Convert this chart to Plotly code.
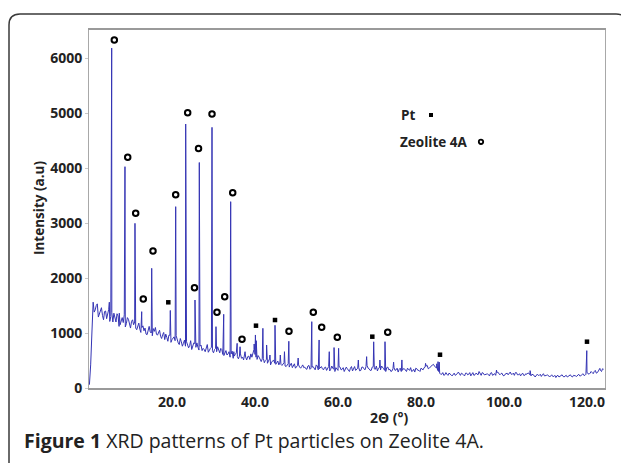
import numpy as np
import plotly.graph_objects as go

# ---------------- data ----------------
ramp_theta = [0.1, 0.4, 0.7]
ramp_int = [60, 420, 1000]

# background sampled every 0.5 deg from 1.0 to 124.0
bg_theta = np.arange(1.0, 124.01, 0.5)
bg_int = [
    1560, 1420, 1530, 1350, 1460, 1240, 1400, 1330, 1210, 1370,   # 1.0-5.5
    1360, 1200, 1310, 1150, 1280, 1330, 1170, 1250, 1090, 1240,   # 6.0-10.5
    1200, 1060, 1180, 1010, 1130, 1090, 970, 1120, 1000, 1080,    # 11.0-15.5
    1100, 960, 1050, 900, 1010, 980, 850, 960, 880, 930,          # 16.0-20.5
    950, 820, 900, 760, 870, 840, 730, 860, 760, 810,             # 21.0-25.5
    820, 690, 780, 720, 660, 790, 700, 740, 640, 720,             # 26.0-30.5
    750, 640, 700, 590, 680, 620, 560, 670, 580, 640,             # 31.0-35.5
    530, 620, 560, 600, 510, 580, 620, 660, 610, 520,             # 36.0-40.5
    560, 480, 540, 500, 450, 530, 470, 510, 430, 490,             # 41.0-45.5
    470, 410, 460, 390, 440, 420, 370, 440, 390, 420,             # 46.0-50.5
    360, 420, 380, 340, 410, 360, 390, 330, 400, 350,             # 51.0-55.5
    390, 330, 380, 350, 310, 400, 340, 370, 320, 380,             # 56.0-60.5
    340, 300, 380, 330, 360, 310, 390, 340, 370, 320,             # 61.0-65.5
    380, 330, 410, 350, 320, 390, 340, 310, 370, 400,             # 66.0-70.5
    350, 300, 380, 340, 310, 370, 330, 290, 360, 320,             # 71.0-75.5
    350, 300, 340, 370, 310, 290, 350, 320, 360, 330,             # 76.0-80.5
    380, 410, 360, 400, 430, 380, 320, 270, 250, 230,             # 81.0-85.5
    280, 230, 260, 220, 270, 240, 290, 230, 260, 220,             # 86.0-90.5
    270, 250, 220, 280, 240, 260, 300, 230, 270, 240,             # 91.0-95.5
    260, 220, 280, 250, 230, 290, 240, 270, 220, 260,             # 96.0-100.5
    240, 290, 250, 230, 280, 240, 220, 270, 230, 250,             # 101.0-105.5
    270, 220, 240, 200, 250, 230, 210, 260, 220, 240,             # 106.0-110.5
    200, 240, 210, 190, 230, 210, 240, 200, 230, 210,             # 111.0-115.5
    240, 200, 230, 210, 250, 220, 260, 230, 280, 250,             # 116.0-120.5
    300, 260, 320, 280, 350, 300, 340,                            # 121.0-124.0
]

# background at the half-steps, 1.25 to 123.75
bg2_theta = np.arange(1.25, 123.76, 0.5)
bg2_int = [
    1380, 1500, 1290, 1440, 1320, 1390, 1260, 1430, 1300, 1200,   # 1.25-5.75
    1270, 1350, 1120, 1240, 1190, 1110, 1280, 1130, 1210, 1150,   # 6.25-10.75
    1090, 1150, 1070, 1100, 1040, 980, 1060, 1020, 950, 1030,     # 11.25-15.75
    980, 1020, 940, 970, 880, 920, 960, 830, 910, 860,            # 16.25-20.75
    870, 790, 840, 810, 760, 800, 770, 700, 820, 740,             # 21.25-25.75
    740, 760, 680, 700, 740, 650, 720, 680, 700, 660,             # 26.25-30.75
    680, 720, 610, 650, 600, 660, 620, 540, 610, 570,             # 31.25-35.75
    580, 540, 510, 560, 570, 520, 560, 700, 560, 590,             # 36.25-40.75
    500, 530, 460, 520, 490, 420, 500, 450, 470, 420,             # 41.25-45.75
    430, 450, 400, 420, 380, 450, 400, 360, 410, 380,             # 46.25-50.75
    390, 370, 350, 400, 340, 380, 360, 420, 330, 380,             # 51.25-55.75
    350, 370, 320, 390, 340, 360, 300, 350, 390, 330,             # 56.25-60.75
    370, 330, 350, 300, 390, 350, 320, 360, 310, 380,             # 61.25-65.75
    350, 390, 360, 320, 380, 350, 400, 360, 330, 360,             # 66.25-70.75
    320, 370, 330, 300, 350, 320, 360, 340, 300, 350,             # 71.25-75.75
    310, 360, 320, 300, 340, 360, 320, 300, 340, 370,             # 76.25-80.75
    400, 350, 390, 420, 400, 360, 300, 250, 280, 240,             # 81.25-85.75
    250, 270, 240, 250, 230, 260, 250, 270, 240, 270,             # 86.25-90.75
    240, 280, 250, 230, 270, 240, 250, 280, 240, 250,             # 91.25-95.75
    240, 270, 230, 260, 280, 250, 260, 230, 250, 270,             # 96.25-100.75
    260, 250, 270, 280, 240, 260, 250, 230, 260, 270,             # 101.25-105.75
    240, 250, 230, 220, 230, 250, 240, 220, 230, 210,             # 106.25-110.75
    220, 210, 230, 220, 200, 230, 210, 220, 200, 230,             # 111.25-115.75
    210, 230, 220, 240, 220, 240, 230, 250, 260, 270,             # 116.25-120.75
    280, 300, 270, 310, 320, 350,                                 # 121.25-123.75
]

# diffraction peak tops
peak_theta = [4.9, 5.47, 7.3, 8.67, 11.08, 12.70, 15.11, 19.59, 20.89, 23.30,
              25.54, 26.58, 29.64, 30.60, 32.46, 34.14, 34.9, 35.7, 36.4, 37.6,
              39.8, 40.1, 40.3, 41.9, 42.8, 43.6, 44.82, 46.1, 47.1, 48.15,
              50.4, 53.68, 55.45, 57.9, 59.05, 60.15, 64.9, 66.9, 68.6, 70.1,
              71.33, 73.4, 75.4, 81.1, 83.8, 84.1, 84.4, 98.2, 106.3, 119.95,
              123.1]
peak_int = [1560, 6180, 1360, 4024, 2994, 1388, 2176, 1410, 3297, 4800,
            1600, 4100, 4739, 1115, 1340, 3388, 660, 812, 750, 660,
            800, 964, 860, 1085, 782, 600, 1140, 600, 660, 850,
            545, 1206, 873, 660, 735, 722, 509, 570, 840, 509,
            842, 470, 510, 448, 440, 479, 470, 327, 315, 679,
            357]

# reflection markers
zeo_theta = [6.10, 9.33, 11.25, 13.08, 15.42, 20.89, 23.78, 25.42, 26.39, 29.64,
             30.84, 32.70, 34.63, 36.87, 48.19, 54.05, 56.07, 59.83, 71.98]
zeo_int = [6327, 4195, 3176, 1618, 2491, 3515, 5005, 1824, 4355, 4982,
           1376, 1660, 3551, 885, 1031, 1376, 1104, 922, 1013]
pt_theta = [19.11, 40.24, 44.82, 68.27, 84.58, 120.0]
pt_int = [1558, 1133, 1236, 933, 605, 842]

x_ticks = [20, 40, 60, 80, 100, 120]
x_ticktext = ["20.0", "40.0", "60.0", "80.0", "100.0", "120.0"]
y_ticks = [0, 1000, 2000, 3000, 4000, 5000, 6000]
y_ticktext = ["0", "1000", "2000", "3000", "4000", "5000", "6000"]

# ---------------- build pattern (merge typed points, sorted) ----------------
pts = (list(zip(ramp_theta, ramp_int))
       + list(zip(bg_theta.tolist(), bg_int))
       + list(zip(bg2_theta.tolist(), bg2_int))
       + list(zip(peak_theta, peak_int)))
pts.sort(key=lambda p: p[0])
xs = [p[0] for p in pts]
ys = [p[1] for p in pts]

# page body has an 8px margin -> figure is 8px smaller and shifted
OFF = 8
W, H = 629 - OFF, 463 - OFF
L, R, T, B = 89 - OFF, 24, 30 - OFF, 75
PW, PH = W - L - R, H - T - B


def px(xp):  # reference-image x pixel -> paper
    return (xp - 89) / PW


def py(yp):  # reference-image y pixel -> paper
    return (388 - yp) / PH


fig = go.Figure()
fig.add_trace(go.Scatter(x=xs, y=ys, mode="lines",
                         line=dict(color="#3434b4", width=1),
                         showlegend=False, hoverinfo="skip"))
fig.add_trace(go.Scatter(x=zeo_theta, y=zeo_int, mode="markers", name="Zeolite 4A",
                         marker=dict(symbol="circle-open", size=5.5, color="black",
                                     line=dict(width=2, color="black")),
                         showlegend=False))
fig.add_trace(go.Scatter(x=pt_theta, y=pt_int, mode="markers", name="Pt",
                         marker=dict(symbol="square", size=4.5, color="black"),
                         showlegend=False))

tickfont = dict(family="Open Sans", size=14, color="#222222", weight="bold")

fig.update_xaxes(range=[0, 124.34], tickvals=x_ticks, ticktext=x_ticktext,
                 showgrid=False, zeroline=False, showline=True, linecolor="#9a9a9a",
                 linewidth=1.5, mirror=True, ticks="", tickfont=tickfont,
                 ticklabelstandoff=0)
fig.update_yaxes(range=[0, 6509], tickvals=y_ticks, ticktext=y_ticktext,
                 showgrid=False, zeroline=False, showline=True, linecolor="#a8a8a8",
                 linewidth=1, mirror=True, ticks="outside", ticklen=3,
                 tickcolor="#c8c8c8", tickfont=tickfont)

# rounded figure frame
x0, x1 = px(9), px(627)
yt, yb = py(14), py(475)
rx, ry = 11 / PW, 11 / PH
frame = (f"M {x0},{yb} L {x0},{yt - ry} Q {x0},{yt} {x0 + rx},{yt} "
         f"L {x1 - rx},{yt} Q {x1},{yt} {x1},{yt - ry} L {x1},{yb}")

shapes = [
    dict(type="path", xref="paper", yref="paper", path=frame,
         line=dict(color="#3a3a3a", width=1.5)),
    dict(type="rect", xref="paper", yref="paper",
         x0=px(429), x1=px(433), y0=py(117), y1=py(113),
         fillcolor="black", line=dict(width=0)),
    dict(type="circle", xref="paper", yref="paper",
         x0=px(478.8), x1=px(483.2), y0=py(144), y1=py(139.6),
         line=dict(color="black", width=1.8)),
]

lab = dict(family="Open Sans", color="#222222", weight="bold")
annots = [
    dict(text="<b>Figure 1</b> XRD patterns of Pt particles on Zeolite 4A.",
         xref="paper", yref="paper", x=px(22), y=py(440), xanchor="left", yanchor="middle",
         showarrow=False, font=dict(family="Open Sans", size=19.5, color="#222222")),
    dict(text="Intensity (a.u)", textangle=-90, xref="paper", yref="paper",
         x=px(39), y=py(208), xanchor="center", yanchor="middle", showarrow=False,
         font=dict(size=13.5, **lab)),
    dict(text="2Θ (°)", xref="paper", yref="paper", x=px(389), y=py(417),
         xanchor="center", yanchor="middle", showarrow=False,
         font=dict(size=14, **lab)),
    dict(text="Pt", xref="paper", yref="paper", x=px(399), y=py(115),
         xanchor="left", yanchor="middle", showarrow=False,
         font=dict(size=13.5, **lab)),
    dict(text="Zeolite 4A", xref="paper", yref="paper", x=px(398), y=py(142),
         xanchor="left", yanchor="middle", showarrow=False,
         font=dict(size=13.5, **lab)),
]

fig.update_layout(width=W, height=H, margin=dict(l=L, r=R, t=T, b=B),
                  paper_bgcolor="white", plot_bgcolor="white",
                  shapes=shapes, annotations=annots, showlegend=False)

fig.write_html("out.html")
